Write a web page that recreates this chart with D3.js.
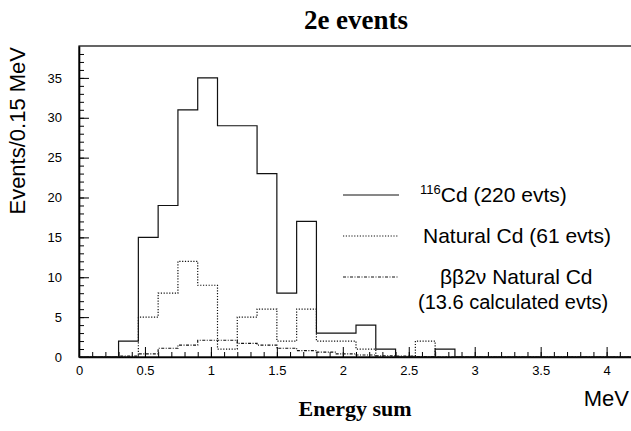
<!DOCTYPE html>
<html lang="en">
<head>
    <meta charset="utf-8">
    <title>2e events</title>
    <style>
        body {
            margin: 0;
            background: #fff;
        }
        svg text {
            font-family: "Liberation Sans", Arial, sans-serif;
        }
        .serif {
            font-family: "Liberation Serif", "Times New Roman", serif !important;
            font-weight: bold;
        }
    </style>
</head>
<body>
<svg class="chart"></svg>
<script src="https://d3js.org/d3.v7.min.js"></script>
<script>
    const chartWidth = 631;
    const chartHeight = 431;
    const margin = {top: 46, right: -2, bottom: 74, left: 79};
    const width = chartWidth - margin.left - margin.right;
    const height = chartHeight - margin.top - margin.bottom;

    // bin lower edges (MeV), bin width 0.15
    const binLow = [0, 0.15, 0.3, 0.45, 0.6, 0.75, 0.9, 1.05, 1.2, 1.35, 1.5, 1.65, 1.8, 1.95,
        2.1, 2.25, 2.4, 2.55, 2.7, 2.85, 3.0, 3.15, 3.3, 3.45, 3.6, 3.75, 3.9, 4.05];
    const binWidth = 0.15;
    // 116Cd (220 evts)
    const cd116 = [0, 0, 2, 15, 19, 31, 35, 29, 29, 23, 8, 17, 3, 3,
        4, 1, 0, 0, 1, 0, 0, 0, 0, 0, 0, 0, 0, 0];
    // Natural Cd (61 evts)
    const natCd = [0, 0, 0, 5, 8, 12, 9, 1, 5, 6, 2, 6, 2, 2,
        1, 0, 0, 2, 0, 0, 0, 0, 0, 0, 0, 0, 0, 0];
    // bb2v Natural Cd (13.6 calculated evts)
    const bb2v = [0, 0, 0.1, 0.4, 1.1, 1.5, 2.1, 2.1, 1.7, 1.5, 1.1, 0.8, 0.6, 0.4,
        0.25, 0.15, 0.1, 0.05, 0, 0, 0, 0, 0, 0, 0, 0, 0, 0];

    const xTicks = [0, 0.5, 1, 1.5, 2, 2.5, 3, 3.5, 4];
    const yTicks = [0, 5, 10, 15, 20, 25, 30, 35];

    const svg = d3.select("svg").attr("width", chartWidth).attr("height", chartHeight);
    const g = svg.append("g").attr("transform", "translate(" + margin.left + "," + margin.top + ")");

    const x = d3.scaleLinear().domain([0, 4.2]).range([0, width]);
    const y = d3.scaleLinear().domain([0, 39]).range([height, 0]);

    // frame
    g.append("rect")
        .attr("width", width).attr("height", height)
        .attr("fill", "none").attr("stroke", "#000").attr("stroke-width", 1.2);

    // minor ticks
    g.append("g")
        .attr("transform", "translate(0," + height + ")")
        .call(d3.axisBottom(x).tickValues(d3.range(0, 4.21, 0.1)).tickSize(-5).tickSizeOuter(0).tickFormat(""))
        .call(s => s.select(".domain").remove());
    g.append("g")
        .call(d3.axisLeft(y).tickValues(d3.range(0, 39, 1)).tickSize(-5).tickSizeOuter(0).tickFormat(""))
        .call(s => s.select(".domain").remove());

    // major ticks + labels
    const xAxis = g.append("g")
        .attr("transform", "translate(0," + height + ")")
        .call(d3.axisBottom(x).tickValues(xTicks).tickSize(-10).tickSizeOuter(0).tickPadding(9).tickFormat(d => d));
    const yAxis = g.append("g")
        .call(d3.axisLeft(y).tickValues(yTicks).tickSize(-10).tickSizeOuter(0).tickPadding(17).tickFormat(d => d));
    [xAxis, yAxis].forEach(a => {
        a.selectAll("text").attr("font-size", 13).attr("fill", "#000")
            .style("font-family", "'Liberation Sans', Arial, sans-serif");
        a.select(".domain").attr("stroke-width", 1.6);
    });

    // histograms
    const line = d3.line()
        .x(d => x(d[0]))
        .y(d => y(d[1]))
        .curve(d3.curveStepAfter);
    function steps(values) {
        const pts = binLow.map((b, i) => [b, values[i]]);
        pts.push([binLow[binLow.length - 1] + binWidth, values[values.length - 1]]);
        return [[0, 0]].concat(pts);
    }
    const series = [
        {values: cd116, dash: null, label: "Cd (220 evts)", sup: "116"},
        {values: natCd, dash: "1.2,1.6", label: "Natural Cd (61 evts)"},
        {values: bb2v, dash: "3,1.5,1,1.5", label: "\u03b2\u03b22\u03bd Natural Cd"}
    ];
    series.forEach(s => {
        g.append("path")
            .attr("d", line(steps(s.values)))
            .attr("fill", "none")
            .attr("stroke", "#111")
            .attr("stroke-width", 1.2)
            .attr("stroke-dasharray", s.dash);
    });

    // legend
    const legY = [195, 236, 277];
    const legText = [420, 423, 440];
    series.forEach((s, i) => {
        svg.append("line")
            .attr("x1", 343).attr("x2", 399)
            .attr("y1", legY[i]).attr("y2", legY[i])
            .attr("stroke", "#111").attr("stroke-width", 1)
            .attr("stroke-dasharray", s.dash);
        const t = svg.append("text")
            .attr("x", legText[i]).attr("y", legY[i] + 7)
            .attr("font-size", 21);
        if (s.sup) {
            t.append("tspan").attr("font-size", 13).attr("dy", -8).text(s.sup);
            t.append("tspan").attr("dy", 8).text(s.label);
        } else {
            t.text(s.label);
        }
    });
    svg.append("text")
        .attr("x", 418).attr("y", 309)
        .attr("font-size", 20)
        .text("(13.6 calculated evts)");

    // titles
    svg.append("text")
        .attr("class", "serif")
        .attr("x", 356).attr("y", 29)
        .attr("text-anchor", "middle")
        .attr("font-size", 27)
        .text("2e events");
    svg.append("text")
        .attr("class", "serif")
        .attr("x", 355).attr("y", 416)
        .attr("text-anchor", "middle")
        .attr("font-size", 22)
        .text("Energy sum");
    svg.append("text")
        .attr("x", 629).attr("y", 406)
        .attr("text-anchor", "end")
        .attr("font-size", 22)
        .text("MeV");
    svg.append("text")
        .attr("transform", "translate(25,47) rotate(-90)")
        .attr("text-anchor", "end")
        .attr("font-size", 22)
        .text("Events/0.15 MeV");
</script>
</body>
</html>
